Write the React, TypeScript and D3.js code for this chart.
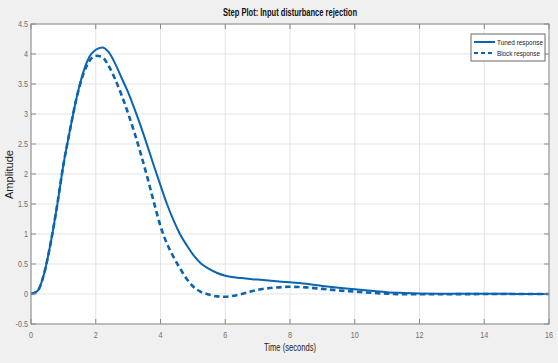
import React from 'react';
import * as d3 from 'd3';

// time samples (seconds)
const times = [0, 0.2, 0.4, 0.6, 0.8, 1.0, 1.2, 1.4, 1.6, 1.8, 2.0, 2.2, 2.4, 2.6, 2.8, 3.0, 3.2, 3.4, 3.6, 3.8, 4.0, 4.2, 4.4, 4.6, 4.8, 5.0, 5.25, 5.5, 5.75, 6.0, 6.5, 7.0, 7.5, 8.0, 8.5, 9.0, 9.5, 10.0, 10.5, 11.0, 11.5, 12, 13, 14, 15, 16];

const tunedValues = [0, 0.05, 0.33, 0.83, 1.45, 2.15, 2.72, 3.25, 3.67, 3.95, 4.07, 4.11, 4.03, 3.84, 3.6, 3.36, 3.08, 2.78, 2.46, 2.13, 1.81, 1.5, 1.23, 1.0, 0.82, 0.66, 0.51, 0.42, 0.35, 0.305, 0.265, 0.24, 0.215, 0.195, 0.17, 0.135, 0.105, 0.08, 0.055, 0.03, 0.018, 0.01, 0.005, 0.003, 0.002, 0.001];

const blockValues = [0, 0.05, 0.33, 0.83, 1.45, 2.15, 2.72, 3.25, 3.64, 3.88, 3.97, 3.95, 3.8, 3.58, 3.31, 3.01, 2.68, 2.32, 1.93, 1.52, 1.13, 0.84, 0.62, 0.43, 0.26, 0.13, 0.035, -0.01, -0.04, -0.045, 0.0, 0.07, 0.105, 0.12, 0.11, 0.085, 0.06, 0.04, 0.02, 0.005, -0.003, -0.005, -0.003, -0.001, 0, 0];

const xTicks = [0, 2, 4, 6, 8, 10, 12, 14, 16];
const yTicks = [-0.5, 0, 0.5, 1, 1.5, 2, 2.5, 3, 3.5, 4, 4.5];

const seriesNames = ['Tuned response', 'Block response'];
const legendWidths = [46, 43];

const W = 558;
const H = 363;
const margin = { left: 31, right: 9, top: 24, bottom: 39 };
const font = 'Arial, "Liberation Sans", sans-serif';
const blue = '#0b64b0';
const axisColor = '#8a8a8a';
const tickColor = '#6e6e6e';

export default function App() {
    const x = d3.scaleLinear().domain([0, 16]).range([margin.left, W - margin.right]);
    const y = d3.scaleLinear().domain([-0.5, 4.5]).range([H - margin.bottom, margin.top]);

    const line = d3.line<number>()
        .x((_, i) => x(times[i]))
        .y(d => y(d))
        .curve(d3.curveMonotoneX);

    const x0 = x.range()[0], x1 = x.range()[1];
    const y0 = y.range()[0], y1 = y.range()[1];

    return (
        <div style={{ position: 'fixed', left: 0, top: 0 }}>
            <svg width={W} height={H} style={{ display: 'block' }}>
                <rect width={W} height={H} fill="#f0f0f0" />
                <rect x={x0} y={y1} width={x1 - x0} height={y0 - y1} fill="#ffffff" />

                {/* grid */}
                {xTicks.map(t => (
                    <line key={'gx' + t} x1={x(t)} x2={x(t)} y1={y1} y2={y0} stroke="#e3e3e3" strokeWidth={1} />
                ))}
                {yTicks.map(t => (
                    <line key={'gy' + t} x1={x0} x2={x1} y1={y(t)} y2={y(t)} stroke="#e3e3e3" strokeWidth={1} />
                ))}

                {/* data */}
                <path d={line(tunedValues) || ''} fill="none" stroke={blue} strokeWidth={2} />
                <path d={line(blockValues) || ''} fill="none" stroke={blue} strokeWidth={2.6} strokeDasharray="5.5,3.5" />

                {/* axes box */}
                <rect x={x0} y={y1} width={x1 - x0} height={y0 - y1} fill="none" stroke={axisColor} strokeWidth={1} />
                {xTicks.map(t => (
                    <g key={'tx' + t}>
                        <line x1={x(t)} x2={x(t)} y1={y0} y2={y0 - 5} stroke={axisColor} />
                        <line x1={x(t)} x2={x(t)} y1={y1} y2={y1 + 5} stroke={axisColor} />
                        <text transform={`translate(${x(t)},${y0 + 14}) scale(0.8,1)`} textAnchor="middle" fontFamily={font} fontSize={9} fill={tickColor}>{t}</text>
                    </g>
                ))}
                {yTicks.map(t => (
                    <g key={'ty' + t}>
                        <line x1={x0} x2={x0 + 5} y1={y(t)} y2={y(t)} stroke={axisColor} />
                        <line x1={x1} x2={x1 - 5} y1={y(t)} y2={y(t)} stroke={axisColor} />
                        <text transform={`translate(${x0 - 3},${y(t) + 3}) scale(0.8,1)`} textAnchor="end" fontFamily={font} fontSize={9} fill={tickColor}>{t}</text>
                    </g>
                ))}

                {/* labels */}
                <text x={223} y={16} textLength={134} lengthAdjust="spacingAndGlyphs" fontFamily={font} fontSize={10} fontWeight="bold" fill="#111">Step Plot: Input disturbance rejection</text>
                <text x={264} y={351} textLength={52} lengthAdjust="spacingAndGlyphs" fontFamily={font} fontSize={10} fill="#222">Time (seconds)</text>
                <text transform={`translate(13,199) rotate(-90)`} textLength={49} lengthAdjust="spacingAndGlyphs" fontFamily={font} fontSize={10} fill="#222">Amplitude</text>

                {/* legend */}
                <g>
                    <rect x={471} y={34} width={74} height={27} fill="#ffffff" stroke="#6a6a6a" strokeWidth={1} />
                    {seriesNames.map((name, i) => (
                        <g key={name}>
                            <line x1={474} x2={495} y1={42 + i * 11} y2={42 + i * 11} stroke={blue} strokeWidth={2} strokeDasharray={i === 1 ? '4,3' : undefined} />
                            <text x={497} y={45 + i * 11} textLength={legendWidths[i]} lengthAdjust="spacingAndGlyphs" fontFamily={font} fontSize={8} fill="#222">{name}</text>
                        </g>
                    ))}
                </g>
            </svg>
        </div>
    );
}
